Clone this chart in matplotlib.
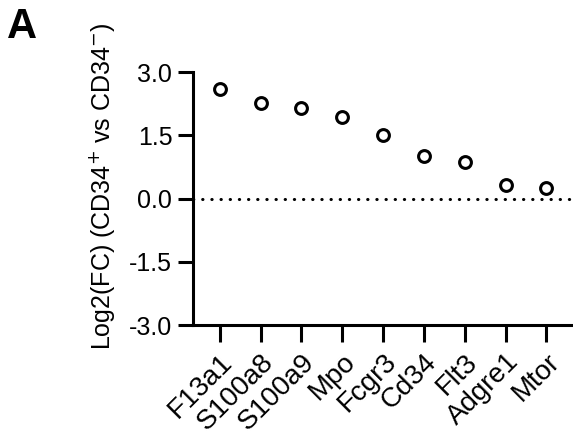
import matplotlib.pyplot as plt
import matplotlib.transforms as mtransforms

genes = ["F13a1", "S100a8", "S100a9", "Mpo", "Fcgr3", "Cd34", "Flt3", "Adgre1", "Mtor"]
log2fc = [2.60, 2.26, 2.14, 1.93, 1.52, 1.00, 0.88, 0.33, 0.26]
yticks = [-3.0, -1.5, 0.0, 1.5, 3.0]

plt.rcParams['font.family'] = ['Liberation Sans', 'DejaVu Sans']

fig = plt.figure(figsize=(5.73, 4.37), dpi=100)
ax = fig.add_axes([0.337, 0.256, 0.663, 0.579])

x = list(range(len(genes)))
ax.plot(x, log2fc, linestyle="none", marker="o", markersize=8.5,
        markerfacecolor="white", markeredgecolor="black", markeredgewidth=2.2,
        zorder=3, clip_on=False)
ax.axhline(0, color="black", linestyle=(0, (0.1, 2.9)), linewidth=2.2, dash_capstyle="round")

ax.set_xlim(-0.65, 8.65)
ax.set_ylim(-3, 3)
ax.set_yticks(yticks)
ax.set_yticklabels([f"{v:.1f}" for v in yticks], fontsize=18)
ax.set_xticks(x)
ax.set_xticklabels(genes, rotation=45, ha="right", rotation_mode="anchor", fontsize=20)

# nudge the rotated labels a bit to the right, like the original
shift = mtransforms.ScaledTranslation(6 / 100, 0, fig.dpi_scale_trans)
for lab in ax.get_xticklabels():
    lab.set_transform(lab.get_transform() + shift)

for s in ["top", "right"]:
    ax.spines[s].set_visible(False)
for s in ["left", "bottom"]:
    ax.spines[s].set_linewidth(2.2)
ax.tick_params(axis="y", length=11, width=2.2, pad=4)
ax.tick_params(axis="x", length=12, width=2.2, pad=5)

ax.set_ylabel("Log2(FC) (CD34$^{+}$ vs CD34$^{-}$)", fontsize=18)
ax.yaxis.set_label_coords(-0.20, 0.55)
fig.text(0.012, 0.985, "A", fontsize=30, fontweight="bold", va="top", ha="left")

plt.savefig("out.png")
